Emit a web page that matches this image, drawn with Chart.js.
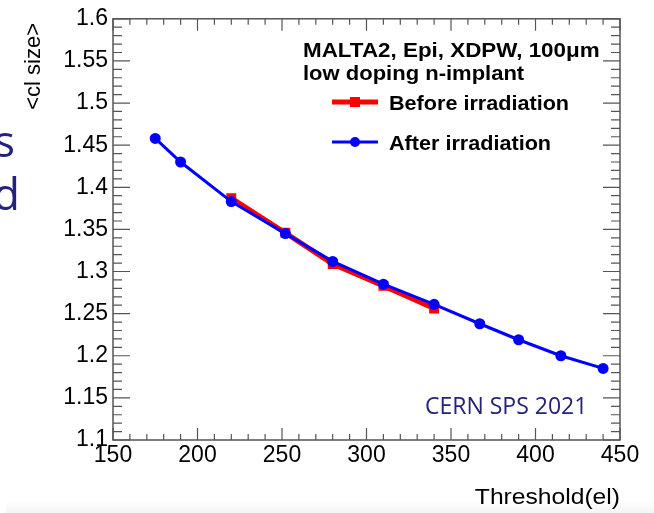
<!DOCTYPE html>
<html>
<head>
<meta charset="utf-8">
<script src="https://cdn.jsdelivr.net/npm/chart.js@4.4.1/dist/chart.umd.min.js"></script>
<style>
  html, body { margin: 0; padding: 0; background: #fff; }
  #wrap { position: relative; width: 654px; height: 513px; }
  #strip { position: absolute; left: 6px; top: 501px; width: 648px; height: 12px; z-index: 0;
           background: linear-gradient(#ffffff, #f4f4f4); }
  #chart { position: relative; z-index: 1; }
</style>
</head>
<body>
<div id="wrap">
  <div id="strip"></div>
  <canvas id="chart"></canvas>
</div>
<script>
// Cluster size vs threshold
const afterX  = [175, 190, 220, 252, 280, 310, 340, 367, 390, 415, 440];
const afterY  = [1.458, 1.430, 1.383, 1.345, 1.312, 1.285, 1.261, 1.238, 1.219, 1.200, 1.185];
const beforeX = [220, 252, 280, 310, 340];
const beforeY = [1.387, 1.346, 1.309, 1.283, 1.256];

const X_MIN = 150, X_MAX = 450, X_STEP = 50;
const Y_MIN = 1.1, Y_MAX = 1.6, Y_STEP = 0.05;

const RED  = '#ff0000';
const BLUE = '#0000ff';
const NAVY = '#23237a';
const ROOT_FONT = '"Liberation Sans", Arial, sans-serif';

// text drawn a little wider, like the stretched original
function wideText(ctx, txt, x, y, sx) {
  ctx.save();
  ctx.translate(x, y);
  ctx.scale(sx, 1);
  ctx.fillText(txt, 0, 0);
  ctx.restore();
}

// ROOT-style frame, inner ticks, legend and labels
const rootFrame = {
  id: 'rootFrame',
  afterDraw(chart) {
    const { ctx, chartArea: a, scales: { x, y } } = chart;
    ctx.save();

    ctx.strokeStyle = '#555';
    ctx.lineWidth = 1.5;
    ctx.strokeRect(a.left, a.top, a.right - a.left, a.bottom - a.top);

    ctx.lineWidth = 1.2;
    ctx.beginPath();
    const nx = Math.round((X_MAX - X_MIN) / 10);
    for (let i = 0; i <= nx; i++) {
      const px = x.getPixelForValue(X_MIN + i * 10);
      const len = i % 5 === 0 ? 12 : 6;
      ctx.moveTo(px, a.bottom); ctx.lineTo(px, a.bottom - len);
      ctx.moveTo(px, a.top);    ctx.lineTo(px, a.top + len);
    }
    const ny = Math.round((Y_MAX - Y_MIN) / 0.01);
    for (let i = 0; i <= ny; i++) {
      const py = y.getPixelForValue(Y_MIN + i * 0.01);
      const len = i % 5 === 0 ? 17 : 9;
      ctx.moveTo(a.left, py);  ctx.lineTo(a.left + len, py);
      ctx.moveTo(a.right, py); ctx.lineTo(a.right - len, py);
    }
    ctx.stroke();

    // text block
    ctx.fillStyle = '#000';
    ctx.textAlign = 'left';
    ctx.textBaseline = 'alphabetic';
    ctx.font = `bold 20px ${ROOT_FONT}`;
    wideText(ctx, 'MALTA2, Epi, XDPW, 100μm', 303, 57, 1.12);
    wideText(ctx, 'low doping n-implant', 303, 80, 1.1);
    wideText(ctx, 'Before irradiation', 389, 110, 1.08);
    wideText(ctx, 'After irradiation', 389, 150, 1.08);

    // legend samples
    ctx.lineWidth = 5;
    ctx.strokeStyle = RED;
    ctx.beginPath(); ctx.moveTo(332, 102); ctx.lineTo(378, 102); ctx.stroke();
    ctx.fillStyle = RED;
    ctx.fillRect(350, 97, 10, 10);
    ctx.lineWidth = 3;
    ctx.strokeStyle = BLUE;
    ctx.beginPath(); ctx.moveTo(332, 142); ctx.lineTo(378, 142); ctx.stroke();
    ctx.fillStyle = BLUE;
    ctx.beginPath(); ctx.arc(355, 142, 5, 0, Math.PI * 2); ctx.fill();

    // axis titles
    ctx.fillStyle = '#000';
    ctx.font = `22px ${ROOT_FONT}`;
    ctx.textAlign = 'right';
    wideText(ctx, 'Threshold(el)', 620, 504, 1.12);

    ctx.save();
    ctx.translate(40, 23);
    ctx.rotate(-Math.PI / 2);
    ctx.font = `22px ${ROOT_FONT}`;
    ctx.textAlign = 'right';
    ctx.fillText('<cl size>', 0, 0);
    ctx.restore();

    // slide overlay text
    ctx.fillStyle = NAVY;
    ctx.font = '23px "Open Sans", sans-serif';
    ctx.textAlign = 'left';
    ctx.fillText('CERN SPS 2021', 425, 414);
    ctx.font = '44px "Open Sans", sans-serif';
    ctx.textAlign = 'right';
    ctx.fillText('s', 15, 157);
    ctx.fillText('d', 20, 210);

    ctx.restore();
  }
};

const toPoints = (xs, ys) => xs.map((v, i) => ({ x: v, y: ys[i] }));

new Chart(document.getElementById('chart'), {
  type: 'line',
  data: {
    datasets: [
      {
        label: 'After irradiation',
        data: toPoints(afterX, afterY),
        borderColor: BLUE,
        backgroundColor: BLUE,
        borderWidth: 3,
        pointStyle: 'circle',
        pointRadius: 5.5,
        pointBorderWidth: 0,
        tension: 0,
        order: 1,
      },
      {
        label: 'Before irradiation',
        data: toPoints(beforeX, beforeY),
        borderColor: RED,
        backgroundColor: RED,
        borderWidth: 5,
        pointStyle: 'rect',
        pointRadius: 7,
        pointBorderWidth: 0,
        tension: 0,
        order: 2,
      },
    ],
  },
  options: {
    responsive: true,
    maintainAspectRatio: false,
    animation: false,
    layout: { padding: { top: 16, right: 34, left: 0, bottom: 0 } },
    plugins: { legend: { display: false }, tooltip: { enabled: false } },
    scales: {
      x: {
        type: 'linear',
        min: X_MIN, max: X_MAX,
        afterFit: s => { s.height = 73; },
        grid: { display: false, drawTicks: false },
        border: { display: false },
        ticks: {
          stepSize: X_STEP,
          padding: 2,
          color: '#000',
          font: { family: ROOT_FONT, size: 23 },
          maxRotation: 0,
          autoSkip: false,
        },
      },
      y: {
        type: 'linear',
        min: Y_MIN, max: Y_MAX,
        afterFit: s => { s.width = 113; },
        grid: { display: false, drawTicks: false },
        border: { display: false },
        ticks: {
          stepSize: Y_STEP,
          padding: 5,
          color: '#000',
          font: { family: ROOT_FONT, size: 23 },
          autoSkip: false,
          callback: v => String(+v.toFixed(2)),
        },
      },
    },
  },
  plugins: [rootFrame],
});
</script>
</body>
</html>
